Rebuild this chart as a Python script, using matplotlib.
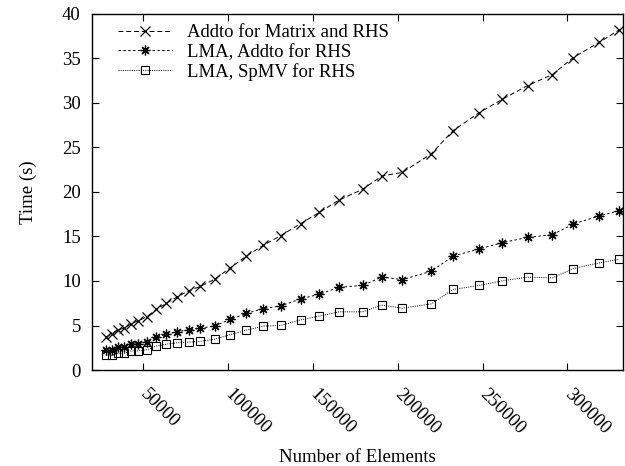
import matplotlib
matplotlib.use("Agg")
import matplotlib.pyplot as plt

# number of elements per run
elements = [28500, 31800, 35300, 38900, 43200, 47100, 52400, 58000, 63900, 70100,
            77000, 83900, 92300, 101600, 111000, 120800, 131200, 143000, 153800,
            165600, 179400, 190800, 202800, 219900, 232700, 248000, 261500, 276500,
            291200, 303400, 318600, 330400]

# timings (s)
addto_full = [3.7, 4.1, 4.5, 4.7, 5.2, 5.5, 6.0, 6.8, 7.5, 8.2, 8.9, 9.4, 10.2, 11.5,
              12.8, 14.0, 15.1, 16.45, 17.7, 19.1, 20.3, 21.8, 22.2, 24.3, 26.9,
              28.9, 30.4, 31.95, 33.2, 35.1, 36.8, 38.2]
lma_addto = [2.2, 2.3, 2.55, 2.6, 2.9, 2.95, 3.2, 3.7, 4.0, 4.3, 4.5, 4.7, 4.95, 5.7,
             6.35, 6.9, 7.2, 8.0, 8.5, 9.3, 9.5, 10.45, 10.15, 11.1, 12.8, 13.6,
             14.3, 14.9, 15.2, 16.4, 17.3, 17.9]
lma_spmv = [1.66, 1.66, 1.88, 1.88, 2.15, 2.15, 2.27, 2.69, 2.9, 3.06, 3.13, 3.23,
            3.46, 3.98, 4.48, 4.93, 5.01, 5.64, 6.05, 6.54, 6.54, 7.29, 6.95, 7.43,
            9.05, 9.5, 10.01, 10.43, 10.35, 11.4, 12.03, 12.44]

labels = ["Addto for Matrix and RHS", "LMA, Addto for RHS", "LMA, SpMV for RHS"]
xticks = [50000, 100000, 150000, 200000, 250000, 300000]

plt.rcParams["font.family"] = ["Liberation Serif", "DejaVu Serif"]
plt.rcParams["font.size"] = 13.5

fig = plt.figure(figsize=(6.25, 4.66), dpi=100)
ax = fig.add_axes([0.147, 0.206, 0.85, 0.764])

ax.plot(elements, addto_full, color="black", lw=0.7, ls=(0, (5, 3)),
        marker="x", ms=7, mew=0.9, label=labels[0])
ax.plot(elements, lma_addto, color="black", lw=0.7, ls=(0, (2.5, 2.5)),
        marker=(8, 2, 0), ms=7, mew=0.9, label=labels[1])
ax.plot(elements, lma_spmv, color="black", lw=0.7, ls=(0, (1, 1.3)),
        marker="s", ms=5.5, mew=0.8, mfc="none", label=labels[2])

ax.set_xlim(20000, 332800)
ax.set_ylim(0, 40)
ax.set_xticks(xticks)
ax.set_xticklabels([str(t) for t in xticks], rotation=-45, ha="left", va="center",
                   rotation_mode="anchor")
ax.set_yticks(range(0, 41, 5))
ax.tick_params(direction="in", length=5, width=0.8, top=True, right=True)
ax.tick_params(axis="x", pad=16)
ax.tick_params(axis="y", pad=8)
for s in ax.spines.values():
    s.set_linewidth(1.0)

ax.set_xlabel("Number of Elements", labelpad=8)
ax.set_ylabel("Time (s)", labelpad=18)

ax.legend(loc="upper left", bbox_to_anchor=(0.028, 1.003), frameon=False,
          handlelength=2.9, handletextpad=0.8, labelspacing=0.12,
          borderaxespad=0.2)

fig.savefig("out.png", dpi=100)
